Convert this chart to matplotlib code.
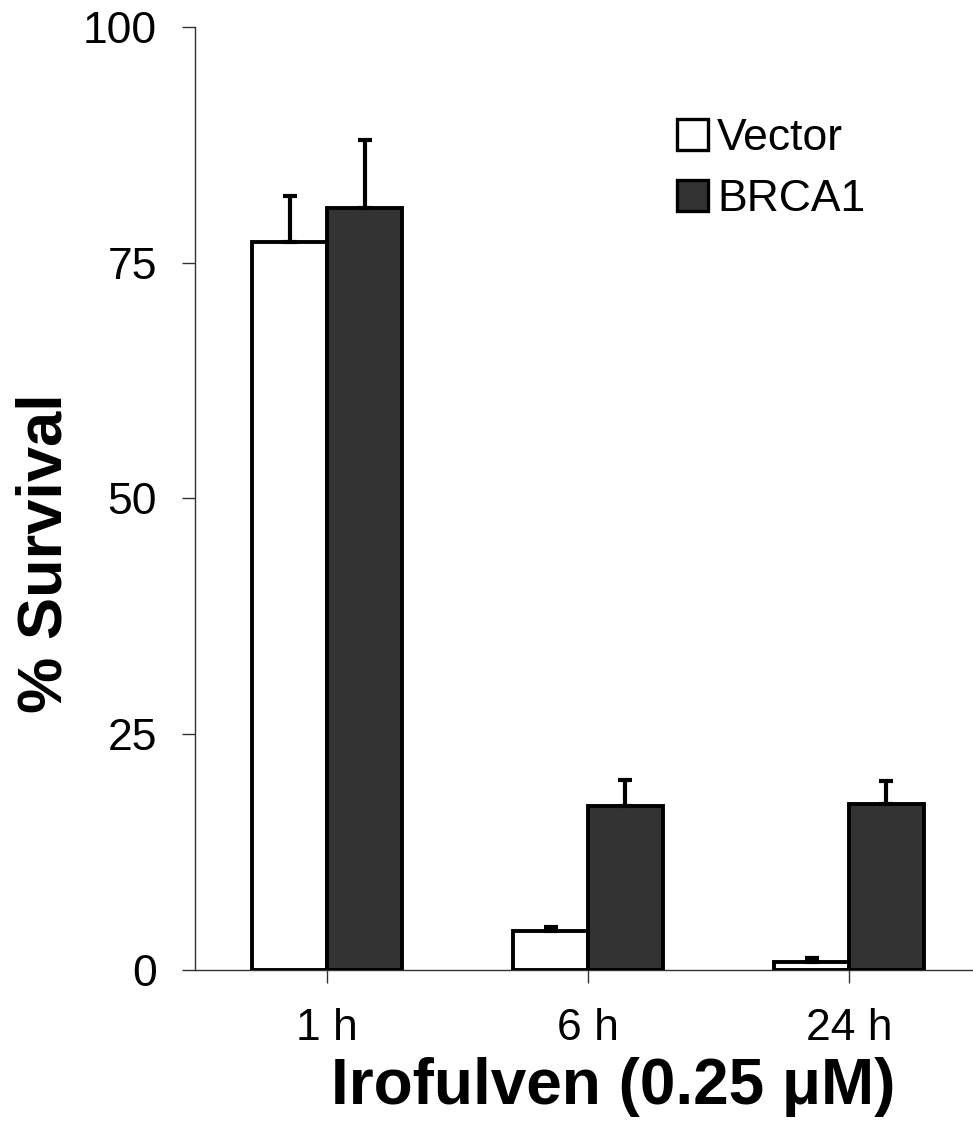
import matplotlib.pyplot as plt
import numpy as np
from matplotlib.patches import Patch

plt.rcParams["font.family"] = ["Liberation Sans", "DejaVu Sans"]

timepoints = ["1 h", "6 h", "24 h"]
vector_mean = [77.2, 4.1, 0.8]
vector_err = [4.9, 0.5, 0.5]
brca1_mean = [80.8, 17.4, 17.6]
brca1_err = [7.2, 2.8, 2.4]
y_ticks = [0, 25, 50, 75, 100]

bar_w = 0.287
x = np.arange(len(timepoints))

fig = plt.figure(figsize=(9.73, 11.3), dpi=100)
ax = fig.add_axes([0.2004, 0.1416, 0.7996, 0.8345])

err_kw = {"elinewidth": 3.0, "capsize": 5, "capthick": 3.0, "ecolor": "black"}
ax.bar(x - bar_w / 2, vector_mean, bar_w, color="white", edgecolor="black", linewidth=2.8,
       yerr=[np.zeros(3), vector_err], error_kw=err_kw, zorder=3)
ax.bar(x + bar_w / 2, brca1_mean, bar_w, color="#333333", edgecolor="black", linewidth=2.8,
       yerr=[np.zeros(3), brca1_err], error_kw=err_kw, zorder=3)

ax.set_xlim(-0.506, 2.475)
ax.set_ylim(0, 100)
ax.set_yticks(y_ticks)
ax.set_xticks(x)
ax.set_xticklabels(timepoints)

for side in ("top", "right"):
    ax.spines[side].set_visible(False)
for side in ("left", "bottom"):
    ax.spines[side].set_linewidth(1.0)
    ax.spines[side].set_color("#333333")

ax.tick_params(axis="y", direction="out", length=9.5, width=1.0, color="#333333",
               labelsize=32, pad=18)
ax.tick_params(axis="x", direction="out", length=9.5, width=1.0, color="#333333",
               labelsize=32, pad=18)

fig.text(613 / 973, 1 - 1087 / 1130, "Irofulven (0.25 \u03bcM)", fontsize=46,
         fontweight="bold", ha="center", va="center")
fig.text(45 / 973, 1 - 553 / 1130, "% Survival", fontsize=45.5, fontweight="bold",
         rotation=90, ha="center", va="center")

handles = [Patch(facecolor="white", edgecolor="black", linewidth=2.4, label="Vector"),
           Patch(facecolor="#333333", edgecolor="black", linewidth=2.4, label="BRCA1")]
ax.legend(handles=handles, loc="upper left", bbox_to_anchor=(677 / 973, 1 - 118 / 1130),
          bbox_transform=fig.transFigure, frameon=False, fontsize=32,
          handlelength=0.7, handleheight=0.7, handletextpad=0.2, labelspacing=0.46,
          borderpad=0, borderaxespad=0)

fig.savefig("out.png", dpi=100)
